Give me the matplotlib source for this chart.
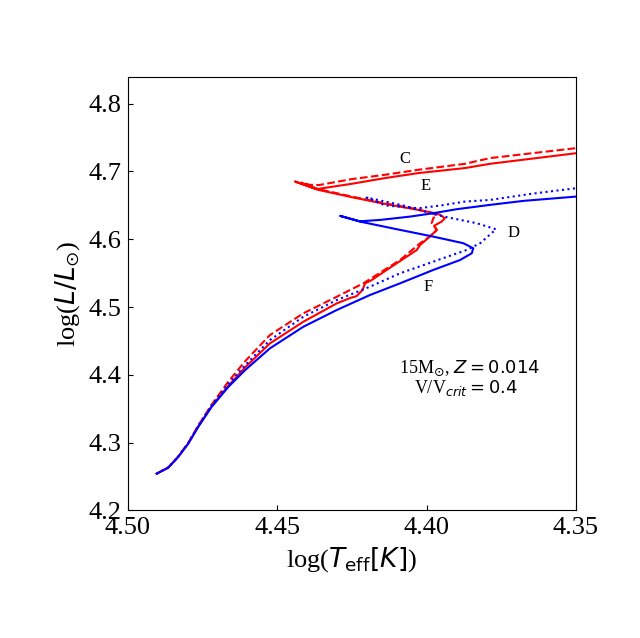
import matplotlib
matplotlib.use("Agg")
import matplotlib.pyplot as plt

plt.rcParams["font.family"] = "serif"
plt.rcParams["font.serif"] = ["Liberation Serif", "Times New Roman", "DejaVu Serif"]
plt.rcParams["mathtext.fontset"] = "dejavusans"

# Track F: blue solid
teff_f = [4.4904, 4.4865, 4.4832, 4.4798, 4.4765, 4.4720, 4.4664, 4.4608,
          4.4525, 4.4413, 4.4301, 4.4190, 4.4089, 4.3978, 4.3888, 4.3849,
          4.3844, 4.3877, 4.3978, 4.4089, 4.4223, 4.4290, 4.4223, 4.4156,
          4.4056, 4.3978, 4.3900, 4.3788, 4.3676, 4.3498, 4.3400]
lum_f = [4.2542, 4.2631, 4.2788, 4.2986, 4.3231, 4.3527, 4.3822, 4.4069,
         4.4390, 4.4709, 4.4956, 4.5177, 4.5350, 4.5547, 4.5694, 4.5793,
         4.5867, 4.5941, 4.6039, 4.6138, 4.6260, 4.6345, 4.6265, 4.6285,
         4.6334, 4.6384, 4.6443, 4.6507, 4.6566, 4.6630, 4.6660]

# Track D: blue dotted
teff_d = [4.4904, 4.4865, 4.4832, 4.4798, 4.4765, 4.4720, 4.4664, 4.4608,
          4.4525, 4.4413, 4.4301, 4.4190, 4.4089, 4.3978, 4.3866, 4.3821,
          4.3768, 4.3833, 4.3933, 4.3975, 4.4080, 4.4201, 4.4140, 4.4030,
          4.3950, 4.3872, 4.3788, 4.3650, 4.3498, 4.3400]
lum_d = [4.2542, 4.2633, 4.2792, 4.2995, 4.3245, 4.3550, 4.3865, 4.4140,
         4.4512, 4.4857, 4.5103, 4.5300, 4.5498, 4.5669, 4.5842, 4.5941,
         4.6147, 4.6237, 4.6326, 4.6370, 4.6500, 4.6615, 4.6500, 4.6455,
         4.6500, 4.6556, 4.6580, 4.6670, 4.6754, 4.6800]

# Track E: red solid
teff_e = [4.4904, 4.4865, 4.4832, 4.4798, 4.4765, 4.4720, 4.4664, 4.4608,
          4.4525, 4.4413, 4.4301, 4.4255, 4.4235, 4.4215, 4.4206, 4.4185,
          4.4134, 4.4033, 4.4022, 4.3989, 4.3966, 4.3975, 4.3950, 4.3939,
          4.3955, 4.3972, 4.4028, 4.4140, 4.4251, 4.4363, 4.4441, 4.4400,
          4.4369, 4.4251, 4.4140, 4.4028, 4.3872, 4.3788, 4.3498, 4.3400]
lum_e = [4.2542, 4.2632, 4.2790, 4.2990, 4.3238, 4.3537, 4.3838, 4.4110,
         4.4463, 4.4783, 4.5054, 4.5135, 4.5160, 4.5250, 4.5350, 4.5395,
         4.5547, 4.5842, 4.5916, 4.6040, 4.6138, 4.6200, 4.6260, 4.6310,
         4.6360, 4.6384, 4.6433, 4.6522, 4.6621, 4.6729, 4.6852, 4.6790,
         4.6739, 4.6818, 4.6902, 4.6976, 4.7050, 4.7113, 4.7270, 4.7300]

# Track C: red dashed
teff_c = [4.4904, 4.4865, 4.4832, 4.4798, 4.4765, 4.4720, 4.4664, 4.4608,
          4.4525, 4.4413, 4.4301, 4.4212, 4.4089, 4.4022, 4.3990, 4.3966,
          4.3983, 4.3978, 4.3966, 4.4028, 4.4140, 4.4251, 4.4363, 4.4420,
          4.4391, 4.4360, 4.4251, 4.4140, 4.4028, 4.3872, 4.3788, 4.3498,
          4.3400]
lum_c = [4.2542, 4.2635, 4.2795, 4.3000, 4.3250, 4.3560, 4.3900, 4.4200,
         4.4586, 4.4907, 4.5152, 4.5350, 4.5694, 4.5941, 4.6040, 4.6138,
         4.6237, 4.6310, 4.6360, 4.6440, 4.6530, 4.6630, 4.6740, 4.6835,
         4.6803, 4.6800, 4.6887, 4.6951, 4.7025, 4.7113, 4.7197, 4.7345,
         4.7375]

# track labels
label_text = ["C", "E", "D", "F"]
label_x = [4.4073, 4.4002, 4.3708, 4.3996]
label_y = [4.7187, 4.6788, 4.6093, 4.5295]

x_ticks = [4.50, 4.45, 4.40, 4.35]
x_ticklabels = ["4.50", "4.45", "4.40", "4.35"]
y_ticks = [4.2, 4.3, 4.4, 4.5, 4.6, 4.7, 4.8]

fig = plt.figure(figsize=(6.4, 6.38), dpi=100)
ax = fig.add_subplot(111)
fig.subplots_adjust(left=0.2, right=0.9, bottom=0.2, top=0.88)

ax.plot(teff_c, lum_c, color="red", ls="--", lw=1.5)
ax.plot(teff_e, lum_e, color="red", ls="-", lw=1.5)
ax.plot(teff_d, lum_d, color="blue", ls=":", lw=1.5)
ax.plot(teff_f, lum_f, color="blue", ls="-", lw=1.5)

for t, x, y in zip(label_text, label_x, label_y):
    ax.text(x, y, t, fontsize=12, ha="center", va="center")

ax.text(4.4092, 4.4090, r"15M$_{\odot}$, $Z = 0.014$", fontsize=13,
        ha="left", va="center")
ax.text(4.4042, 4.3800, r"V/V$_{crit} = 0.4$", fontsize=13,
        ha="left", va="center")

ax.set_xlim(4.50, 4.35)
ax.set_ylim(4.2, 4.84)
ax.set_xticks(x_ticks)
ax.set_xticklabels(x_ticklabels)
ax.set_yticks(y_ticks)
ax.set_yticklabels([f"{v:.1f}" for v in y_ticks])
ax.tick_params(direction="in", labelsize=19, length=3.5, pad=5)
for lbl in ax.get_xticklabels() + ax.get_yticklabels():
    lbl.set_fontfamily("Liberation Serif")
ax.set_xlabel(r"log($T_{\rm eff}[K]$)", fontsize=19)
ax.set_ylabel(r"log($L/L_{\odot}$)", fontsize=19)

fig.savefig("out.png", dpi=100)
